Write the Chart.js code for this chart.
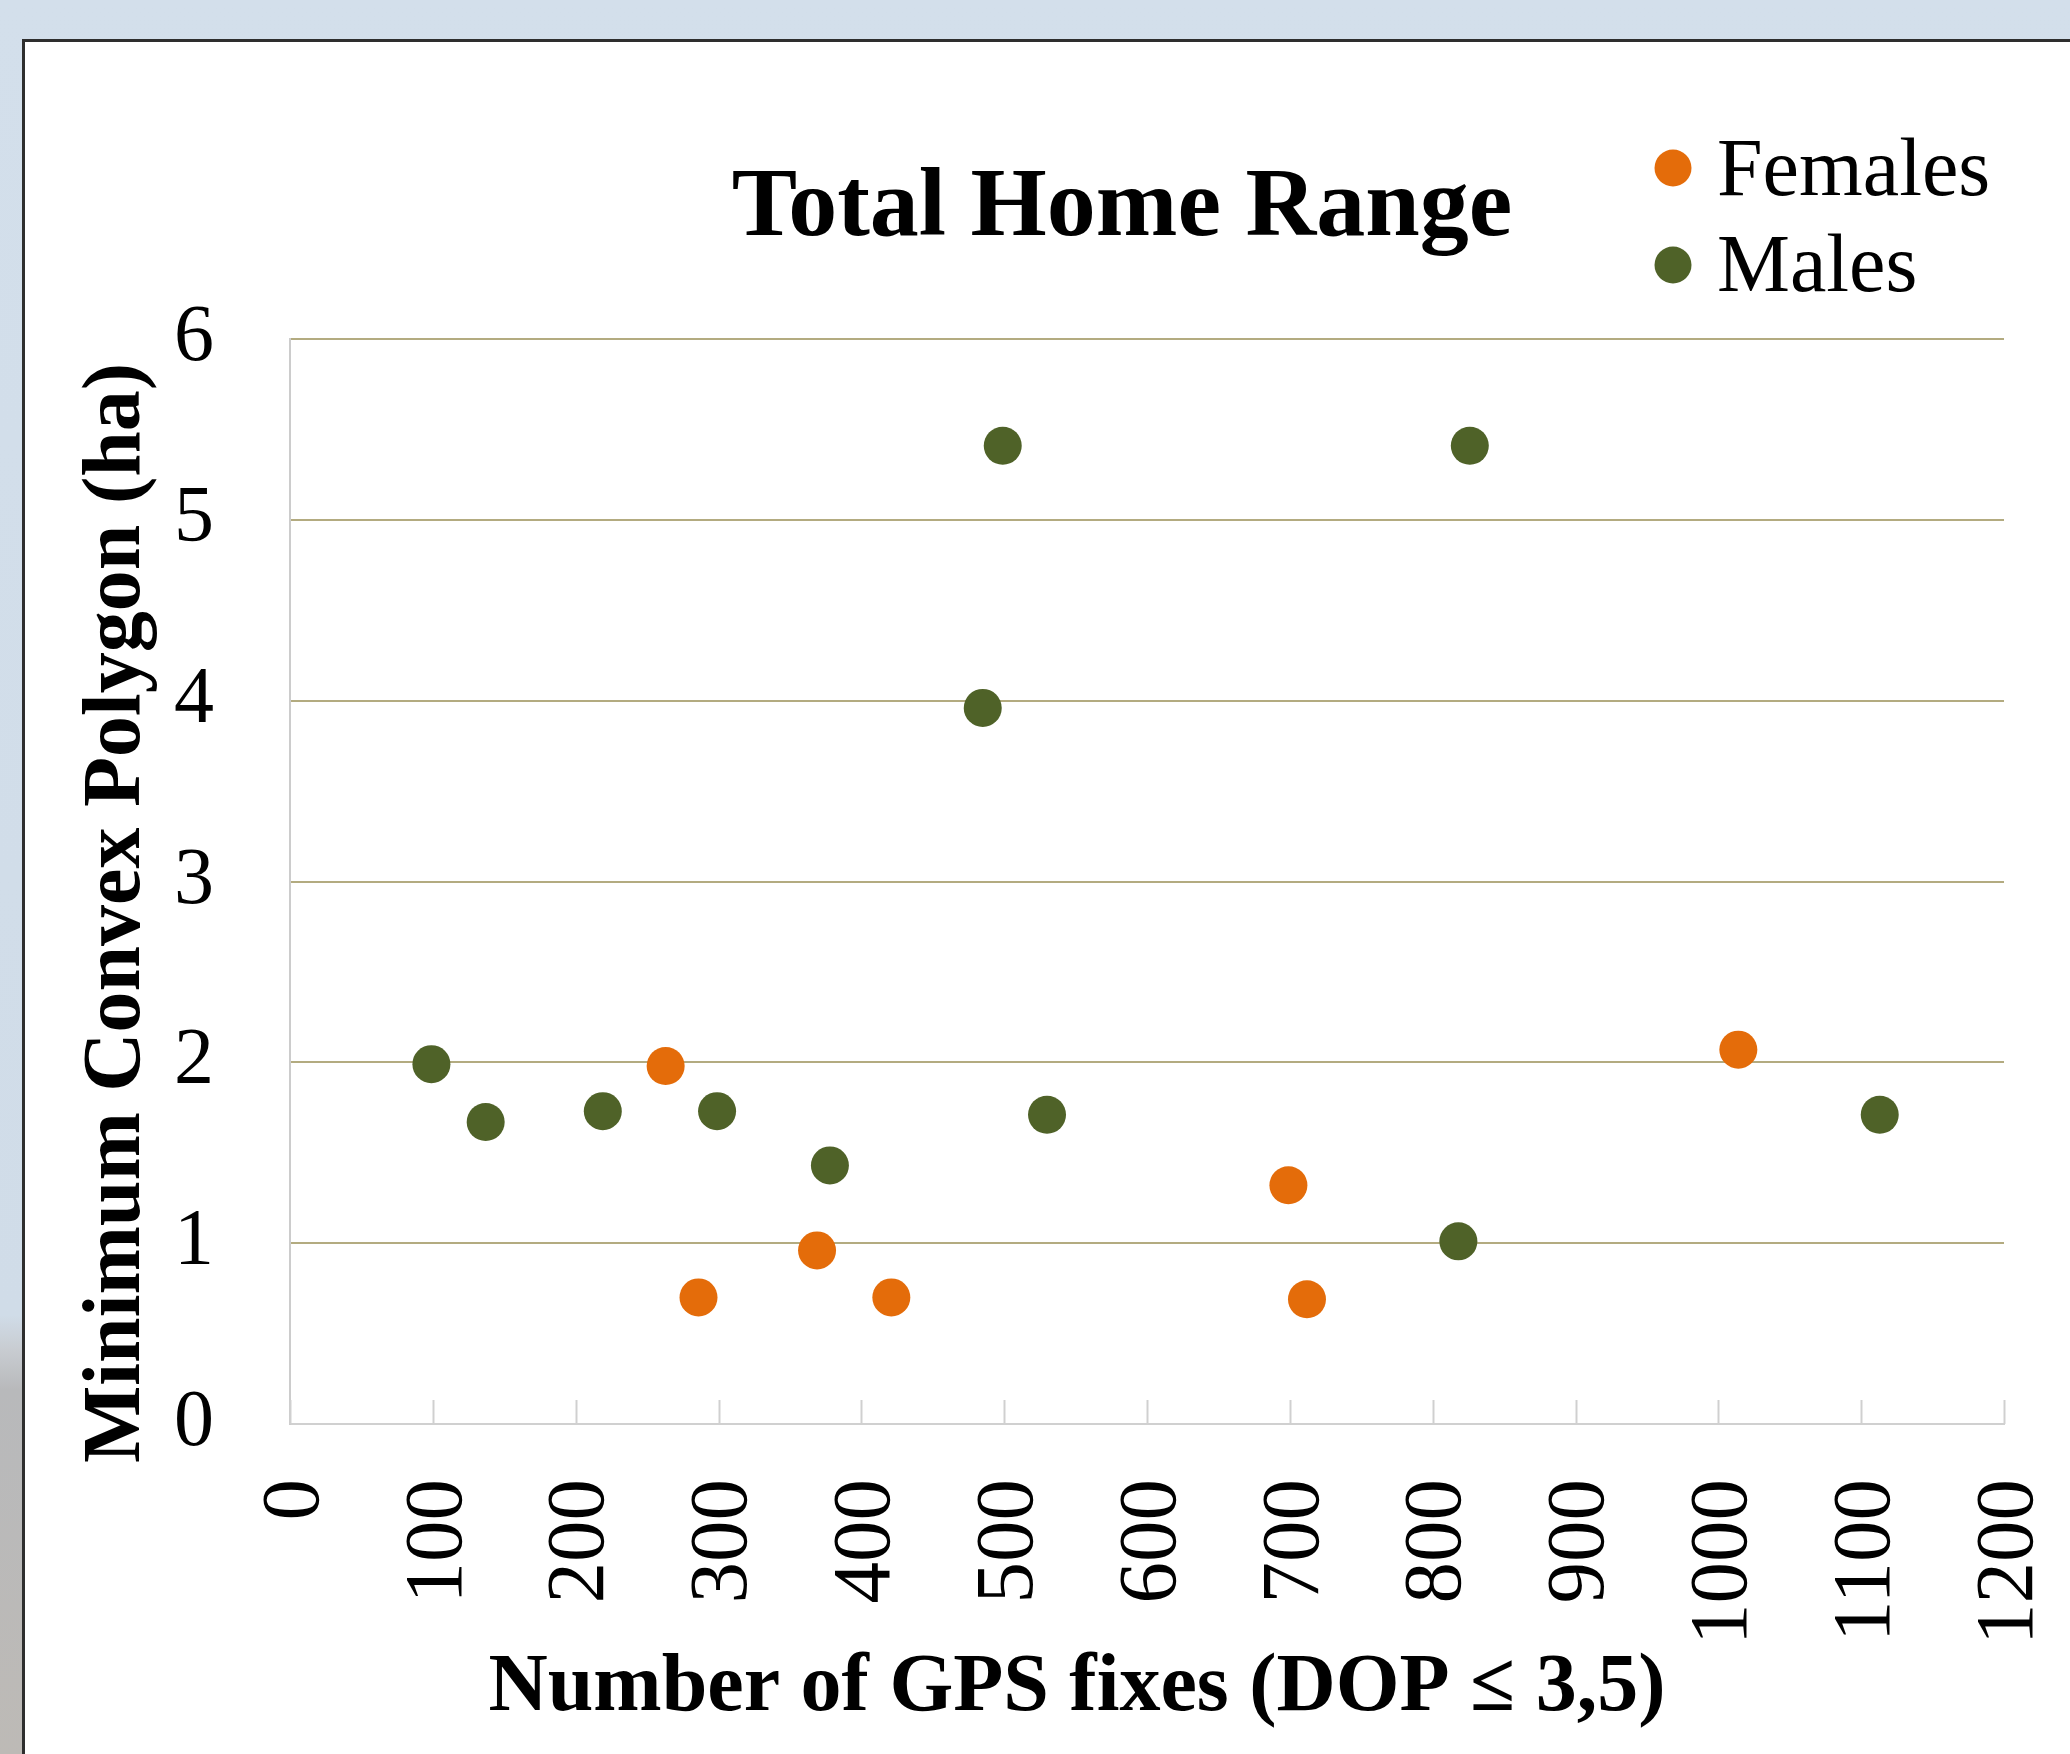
<!DOCTYPE html>
<html>
<head>
<meta charset="utf-8">
<script src="https://cdn.jsdelivr.net/npm/chart.js@4.4.0/dist/chart.umd.min.js"></script>
<style>
  html, body { margin: 0; padding: 0; width: 2070px; height: 1754px; overflow: hidden; }
  body {
    position: relative;
    background: linear-gradient(to bottom, #d3dfeb 0px, #d0dce8 1315px, #c8ccd1 1350px, #b8b9bb 1390px, #bdbab6 1754px);
  }
  #card {
    position: absolute; left: 22px; top: 39px; width: 2100px; height: 1800px;
    background: #fff; border-left: 3px solid #2e2e2e; border-top: 3px solid #2e2e2e;
  }
  #chart { position: absolute; left: 0; top: 0; }
</style>
</head>
<body>
<div id="card"></div>
<canvas id="chart" width="2070" height="1754"></canvas>
<script>
// data
const femaleFixes = [263, 286, 369, 421, 699, 712, 1014];
const femaleMcp   = [1.98, 0.70, 0.96, 0.70, 1.32, 0.69, 2.07];
const maleFixes   = [99, 137, 219, 299, 378, 485, 499, 530, 818, 826, 1113];
const maleMcp     = [1.99, 1.67, 1.73, 1.73, 1.43, 3.96, 5.41, 1.71, 1.01, 5.41, 1.71];

const seriesNames = ['Females', 'Males'];
const seriesColors = ['#e46c0a', '#4f6228'];
const chartTitle = 'Total Home Range';
const xTitle = 'Number of GPS fixes (DOP \u2264 3,5)';
const yTitle = 'Minimum Convex Polygon (ha)';
const xMin = 0, xMax = 1200, xStep = 100;
const yMin = 0, yMax = 6, yStep = 1;

const serif = '"Liberation Serif", "DejaVu Serif", serif';

function toPoints(xs, ys) {
    return xs.map((x, i) => ({ x: x, y: ys[i] }));
}

// inner tick marks on the x axis + titles + legend
const decorPlugin = {
    id: 'decor',
    afterDraw(chart) {
        const ctx = chart.ctx;
        const area = chart.chartArea;
        const xs = chart.scales.x;

        ctx.save();
        ctx.strokeStyle = '#d0d0d0';
        ctx.lineWidth = 2;
        xs.ticks.forEach(t => {
            const px = Math.round(xs.getPixelForValue(t.value)) + 0.5;
            ctx.beginPath();
            ctx.moveTo(px, area.bottom);
            ctx.lineTo(px, area.bottom - 24);
            ctx.stroke();
        });

        ctx.fillStyle = '#000';
        ctx.textBaseline = 'alphabetic';

        // chart title
        ctx.font = 'bold 98px ' + serif;
        ctx.textAlign = 'center';
        ctx.fillText(chartTitle, 1122, 235);

        // x axis title
        ctx.font = 'bold 82px ' + serif;
        ctx.fillText(xTitle, 1077, 1710);

        // y axis title
        ctx.save();
        ctx.translate(139, 913);
        ctx.rotate(-Math.PI / 2);
        ctx.fillText(yTitle, 0, 0);
        ctx.restore();

        // legend
        ctx.font = '82px ' + serif;
        ctx.textAlign = 'left';
        chart.data.datasets.forEach((ds, i) => {
            ctx.fillStyle = ds.backgroundColor;
            ctx.beginPath();
            ctx.arc(1673, 168 + i * 97, 18.5, 0, Math.PI * 2);
            ctx.fill();
            ctx.fillStyle = '#000';
            ctx.fillText(ds.label, 1717, 195 + i * 96);
        });
        ctx.restore();
    }
};

const ctx = document.getElementById('chart').getContext('2d');

new Chart(ctx, {
    type: 'scatter',
    data: {
        datasets: [
            {
                label: seriesNames[0],
                data: toPoints(femaleFixes, femaleMcp),
                backgroundColor: seriesColors[0],
                borderWidth: 0,
                pointRadius: 19,
                pointHoverRadius: 19
            },
            {
                label: seriesNames[1],
                data: toPoints(maleFixes, maleMcp),
                backgroundColor: seriesColors[1],
                borderWidth: 0,
                pointRadius: 19,
                pointHoverRadius: 19
            }
        ]
    },
    options: {
        responsive: false,
        devicePixelRatio: 1,
        animation: false,
        layout: {
            padding: { left: 0, right: 66, top: 339, bottom: 0 }
        },
        plugins: {
            legend: { display: false },
            title: { display: false },
            tooltip: { enabled: false }
        },
        scales: {
            x: {
                type: 'linear',
                min: xMin,
                max: xMax,
                afterFit: scale => {
                    scale.height = 330;
                    scale.paddingLeft = 0;
                    scale.paddingRight = 0;
                },
                ticks: {
                    stepSize: xStep,
                    autoSkip: false,
                    minRotation: 90,
                    maxRotation: 90,
                    padding: 47,
                    labelOffset: 6,
                    color: '#000',
                    font: { family: serif, size: 83 },
                    callback: v => String(v)
                },
                grid: { display: false },
                border: { display: true, color: '#d0d0d0', width: 2 }
            },
            y: {
                type: 'linear',
                min: yMin,
                max: yMax,
                afterFit: scale => {
                    scale.width = 290;
                    scale.paddingTop = 0;
                    scale.paddingBottom = 0;
                },
                ticks: {
                    stepSize: yStep,
                    padding: 76,
                    color: '#000',
                    font: { family: serif, size: 80 }
                },
                grid: {
                    drawTicks: false,
                    lineWidth: 2,
                    color: c => (c.tick && c.tick.value === 0) ? 'rgba(0,0,0,0)' : '#b3ab80'
                },
                border: { display: true, color: '#cccccc', width: 2 }
            }
        }
    },
    plugins: [decorPlugin]
});
</script>
</body>
</html>
